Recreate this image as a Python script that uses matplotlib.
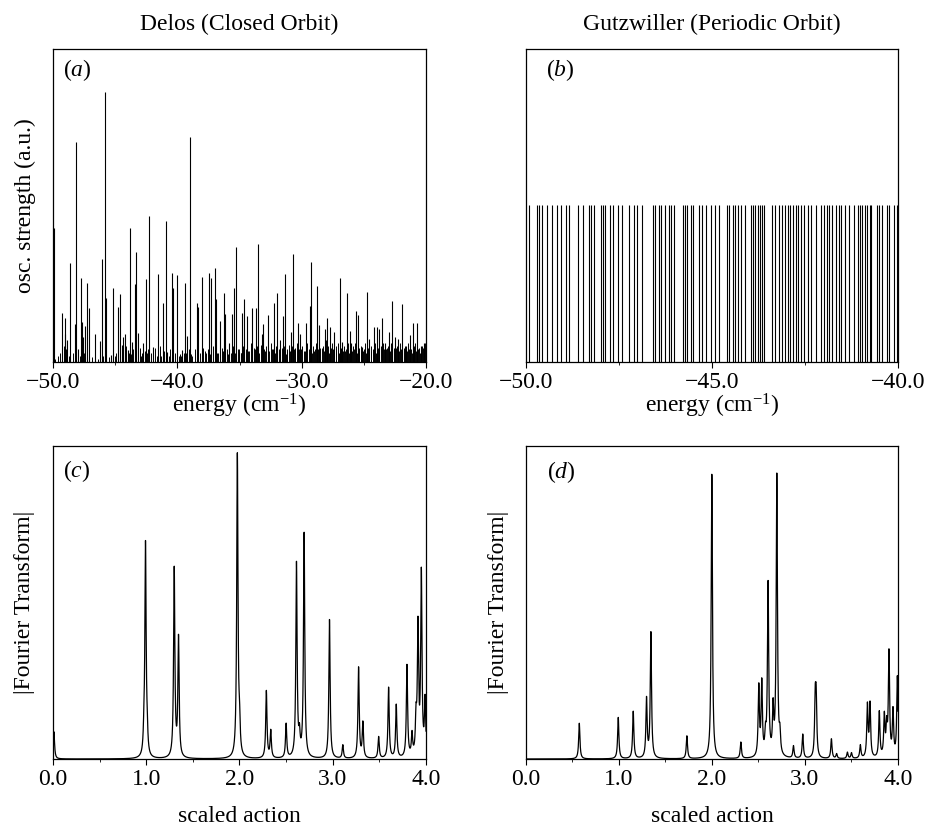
import numpy as np
import matplotlib
matplotlib.use("Agg")
import matplotlib.pyplot as plt
from matplotlib.ticker import MultipleLocator, FuncFormatter, FormatStrFormatter

plt.rcParams['font.family'] = ['Liberation Serif', 'DejaVu Serif']
plt.rcParams['mathtext.fontset'] = 'custom'
plt.rcParams['mathtext.rm'] = 'Liberation Serif'
plt.rcParams['mathtext.it'] = 'Liberation Serif:italic'
plt.rcParams['axes.unicode_minus'] = True

FS = 17

# ---------------- Panel (a): Delos closed-orbit stick spectrum ----------------
a_energy = [-49.95, -49.25, -49.06, -49.01, -48.85, -48.60, -48.25, -48.15, -47.99, -47.72,
            -47.66, -47.56, -47.39, -47.23, -47.07, -46.59, -46.19, -46.05, -45.81, -45.73,
            -45.30, -45.17, -44.79, -44.60, -44.49, -44.33, -44.20, -43.96, -43.80, -43.66,
            -43.42, -43.31, -43.15, -42.77, -42.51, -42.24, -41.92, -41.54, -41.19, -40.95,
            -40.81, -40.46, -40.33, -40.06, -39.61, -39.39, -39.20, -38.96, -38.45, -38.32,
            -38.05, -37.43, -37.27, -37.00, -36.89, -36.54, -36.27, -36.14, -35.82, -35.60,
            -35.44, -35.28, -35.01, -34.80, -34.64, -34.42, -33.96, -33.70, -33.53, -33.19,
            -33.08, -32.73, -32.19, -31.98, -31.71, -31.49, -31.33, -30.88, -30.69, -30.26,
            -30.10, -29.69, -29.34, -29.24, -28.78, -28.62, -28.16, -27.97, -27.71, -27.38,
            -26.93, -26.74, -26.39, -26.15, -26.01, -25.61, -25.50, -25.15, -24.75, -24.56,
            -24.21, -23.97, -23.78, -23.52, -23.33, -22.95, -22.76, -22.47, -22.23, -21.93,
            -21.58, -21.29, -21.05, -20.72, -20.43, -20.19]
a_strength = [0.427, 0.157, 0.091, 0.139, 0.069, 0.315, 0.123, 0.704, 0.043, 0.267,
              0.128, 0.080, 0.115, 0.251, 0.171, 0.091, 0.067, 0.329, 0.862, 0.203,
              0.021, 0.238, 0.176, 0.217, 0.053, 0.080, 0.089, 0.037, 0.428, 0.064,
              0.249, 0.351, 0.094, 0.062, 0.265, 0.467, 0.048, 0.281, 0.189, 0.449,
              0.032, 0.283, 0.238, 0.279, 0.037, 0.251, 0.082, 0.718, 0.190, 0.176,
              0.270, 0.283, 0.267, 0.299, 0.200, 0.131, 0.219, 0.153, 0.061, 0.153,
              0.235, 0.369, 0.032, 0.155, 0.200, 0.146, 0.174, 0.171, 0.377, 0.091,
              0.123, 0.149, 0.187, 0.219, 0.069, 0.146, 0.281, 0.096, 0.345, 0.125,
              0.089, 0.125, 0.179, 0.318, 0.242, 0.117, 0.107, 0.139, 0.112, 0.096,
              0.269, 0.064, 0.219, 0.098, 0.062, 0.163, 0.149, 0.048, 0.224, 0.075,
              0.112, 0.112, 0.106, 0.142, 0.062, 0.096, 0.195, 0.080, 0.075, 0.185,
              0.051, 0.086, 0.125, 0.125, 0.051, 0.062]

# weak lines forming the dense "grass" along the baseline
a_weak_energy = [-49.80, -49.60, -49.45, -49.15, -48.95, -48.70, -48.40, -47.85, -47.50, -47.30,
                 -46.90, -46.40, -45.95, -45.50, -45.00, -44.90, -44.65, -44.10, -43.90, -43.55,
                 -43.20, -43.00, -42.85, -42.60, -42.35, -42.10, -41.80, -41.65, -41.40, -41.05,
                 -40.70, -40.55, -40.20, -39.90, -39.80, -39.50, -39.10, -38.80, -38.60, -38.20,
                 -37.90, -37.70, -37.55, -37.10, -36.95, -36.70, -36.40, -36.00, -35.70, -35.50,
                 -35.15, -34.90, -34.70, -34.50, -34.25, -34.10, -33.85, -33.60, -33.40, -33.30,
                 -33.00, -32.85, -32.60, -32.45, -32.30, -32.05, -31.85, -31.60, -31.40, -31.20,
                 -31.05, -30.95, -30.80, -30.55, -30.40, -30.20, -29.95, -29.85, -29.55, -29.45,
                 -29.10, -28.95, -28.85, -28.50, -28.30, -28.05, -27.90, -27.60, -27.50, -27.25,
                 -27.10, -26.85, -26.60, -26.50, -26.30, -26.05, -25.85, -25.70, -25.40, -25.25,
                 -25.05, -24.90, -24.65, -24.45, -24.30, -24.10, -23.90, -23.65, -23.45, -23.20,
                 -23.05, -22.85, -22.60, -22.35, -22.10, -21.80, -21.70, -21.45, -21.20, -21.00,
                 -20.85, -20.60, -20.35, -20.10, -20.02,
                 -44.40, -43.70, -42.95, -42.45, -41.95, -41.30, -40.90, -40.40, -39.70, -39.30,
                 -38.90, -38.40, -37.80, -37.35, -36.80, -36.30, -35.90, -35.35, -35.05, -34.85,
                 -34.35, -34.00, -33.75, -33.15, -32.95, -32.70, -32.40, -32.15, -31.95, -31.75,
                 -31.50, -31.30, -31.15, -30.85, -30.65, -30.50, -30.30, -30.05, -29.75, -29.62,
                 -29.30, -29.20, -29.00, -28.70, -28.60, -28.40, -28.20, -28.10, -27.80, -27.65,
                 -27.40, -27.20, -27.00, -26.80, -26.70, -26.45, -26.20, -26.10, -25.95, -25.80,
                 -25.55, -25.35, -25.20, -25.00, -24.80, -24.60, -24.40, -24.20, -24.00, -23.80,
                 -23.55, -23.40, -23.30, -23.10, -22.90, -22.70, -22.50, -22.40, -22.20, -22.00,
                 -21.90, -21.65, -21.50, -21.35, -21.10, -20.95, -20.80, -20.65, -20.50, -20.25]
a_weak_strength = [0.010, 0.020, 0.030, 0.050, 0.040, 0.020, 0.030, 0.020, 0.030, 0.020,
                   0.015, 0.010, 0.020, 0.015, 0.020, 0.030, 0.040, 0.050, 0.030, 0.040,
                   0.030, 0.045, 0.030, 0.035, 0.040, 0.030, 0.045, 0.020, 0.050, 0.035,
                   0.020, 0.040, 0.030, 0.020, 0.025, 0.030, 0.040, 0.020, 0.040, 0.030,
                   0.045, 0.030, 0.040, 0.050, 0.060, 0.030, 0.045, 0.040, 0.030, 0.050,
                   0.040, 0.030, 0.050, 0.040, 0.035, 0.060, 0.045, 0.050, 0.030, 0.055,
                   0.040, 0.050, 0.035, 0.060, 0.040, 0.050, 0.040, 0.045, 0.050, 0.040,
                   0.055, 0.035, 0.050, 0.045, 0.060, 0.040, 0.050, 0.035, 0.060, 0.040,
                   0.050, 0.040, 0.060, 0.045, 0.050, 0.070, 0.050, 0.060, 0.040, 0.050,
                   0.060, 0.040, 0.050, 0.035, 0.060, 0.045, 0.050, 0.060, 0.040, 0.050,
                   0.035, 0.060, 0.045, 0.050, 0.040, 0.060, 0.045, 0.050, 0.060, 0.040,
                   0.050, 0.060, 0.045, 0.050, 0.060, 0.045, 0.050, 0.060, 0.040, 0.050,
                   0.060, 0.045, 0.050, 0.060, 0.070,
                   0.020, 0.025, 0.020, 0.030, 0.025, 0.020, 0.030, 0.025, 0.020, 0.030,
                   0.025, 0.030, 0.035, 0.025, 0.030, 0.035, 0.025, 0.030, 0.040, 0.030,
                   0.035, 0.025, 0.040, 0.030, 0.035, 0.025, 0.040, 0.030, 0.035, 0.030,
                   0.040, 0.025, 0.035, 0.030, 0.040, 0.035, 0.030, 0.040, 0.035, 0.030,
                   0.040, 0.030, 0.035, 0.040, 0.030, 0.045, 0.035, 0.040, 0.030, 0.045,
                   0.035, 0.040, 0.030, 0.045, 0.035, 0.040, 0.030, 0.045, 0.035, 0.040,
                   0.030, 0.045, 0.035, 0.040, 0.030, 0.045, 0.035, 0.040, 0.030, 0.045,
                   0.035, 0.040, 0.030, 0.045, 0.035, 0.040, 0.030, 0.045, 0.035, 0.040,
                   0.030, 0.045, 0.035, 0.040, 0.030, 0.045, 0.035, 0.040, 0.030, 0.045]

# ---------------- Panel (b): Gutzwiller periodic-orbit levels ----------------
b_energy = [-49.93, -49.71, -49.66, -49.56, -49.44, -49.30, -49.18, -49.05, -48.93, -48.84,
            -48.60, -48.46, -48.31, -48.25, -48.16, -47.99, -47.94, -47.88, -47.73, -47.67,
            -47.52, -47.41, -47.22, -47.10, -47.01, -46.87, -46.59, -46.54, -46.43, -46.38,
            -46.26, -46.16, -46.09, -46.02, -45.77, -45.73, -45.66, -45.57, -45.50, -45.35,
            -45.26, -45.16, -45.04, -44.91, -44.80, -44.60, -44.54, -44.44, -44.38, -44.31,
            -44.23, -44.11, -43.95, -43.90, -43.84, -43.76, -43.71, -43.65, -43.60, -43.39,
            -43.30, -43.20, -43.13, -43.03, -42.96, -42.90, -42.83, -42.75, -42.69, -42.60,
            -42.52, -42.42, -42.35, -42.21, -42.07, -41.99, -41.92, -41.85, -41.78, -41.68,
            -41.59, -41.52, -41.42, -41.33, -41.17, -41.08, -41.01, -40.96, -40.89, -40.82,
            -40.76, -40.72, -40.57, -40.51, -40.44, -40.30, -40.23, -40.12, -40.03]
b_strength = 1.0

# ---------------- Panel (c): |FT| of Delos spectrum (peak list) ----------------
c_action = [0.01, 0.975, 0.992, 1.010, 1.300, 1.346, 1.977, 2.000, 2.288, 2.335, 2.500,
            2.611, 2.643, 2.693, 2.965, 3.108, 3.277, 3.323, 3.492, 3.599, 3.681,
            3.796, 3.850, 3.893, 3.914, 3.950, 3.990]
c_amp = [0.087, 0.05, 0.680, 0.05, 0.604, 0.380, 0.968, 0.09, 0.215, 0.087, 0.109,
         0.620, 0.060, 0.716, 0.444, 0.043, 0.290, 0.112, 0.069, 0.226, 0.170,
         0.295, 0.070, 0.110, 0.410, 0.583, 0.178]

# ---------------- Panel (d): |FT| of Gutzwiller spectrum (peak list) ----------------
d_action = [0.573, 0.992, 1.153, 1.296, 1.343, 1.730, 1.998, 2.310, 2.503, 2.535,
            2.575, 2.603, 2.657, 2.697, 2.730, 2.876, 2.976, 3.110, 3.120, 3.284,
            3.340, 3.456, 3.500, 3.595, 3.671, 3.699, 3.799, 3.853, 3.878, 3.903,
            3.946, 3.993]
d_amp = [0.114, 0.132, 0.151, 0.188, 0.401, 0.073, 0.909, 0.052, 0.223, 0.233,
         0.060, 0.551, 0.146, 0.899, 0.060, 0.039, 0.077, 0.170, 0.170, 0.063,
         0.015, 0.020, 0.018, 0.042, 0.167, 0.170, 0.146, 0.130, 0.090, 0.332,
         0.146, 0.258]

peak_hwhm = 0.008

titles = ["Delos (Closed Orbit)", "Gutzwiller (Periodic Orbit)"]
panel_tags = ["a", "b", "c", "d"]

W, H = 928, 827
fig = plt.figure(figsize=(W / 100, H / 100), dpi=100)

def ax_px(l, t, r, b):
    return fig.add_axes([l / W, 1 - b / H, (r - l) / W, (b - t) / H])

ax_a = ax_px(53, 49, 426, 362)
ax_b = ax_px(526, 49, 898, 362)
ax_c = ax_px(53, 446, 426, 759)
ax_d = ax_px(526, 446, 898, 759)

for ax in (ax_a, ax_b, ax_c, ax_d):
    for s in ax.spines.values():
        s.set_linewidth(0.9)
    ax.tick_params(axis='y', left=False, labelleft=False)
    ax.tick_params(axis='x', which='major', direction='out', length=4, width=0.8,
                   labelsize=FS, pad=3)
    ax.tick_params(axis='x', which='minor', direction='out', length=2.5, width=0.6)

neg_fmt = FuncFormatter(lambda v, p: f"{v:.1f}".replace('-', '\u2212'))

# (a)
ax_a.vlines(a_weak_energy, 0, a_weak_strength, color='black', lw=0.7)
ax_a.vlines(a_energy, 0, a_strength, color='black', lw=0.8)
ax_a.set_xlim(-50, -20)
ax_a.set_ylim(0, 1)
ax_a.xaxis.set_major_locator(MultipleLocator(10))
ax_a.xaxis.set_minor_locator(MultipleLocator(5))
ax_a.xaxis.set_major_formatter(neg_fmt)

# (b)
ax_b.vlines(b_energy, 0, b_strength, color='black', lw=0.8)
ax_b.set_xlim(-50, -40)
ax_b.set_ylim(0, 2)
ax_b.xaxis.set_major_locator(MultipleLocator(5))
ax_b.xaxis.set_minor_locator(MultipleLocator(2.5))
ax_b.xaxis.set_major_formatter(neg_fmt)

# (c), (d)
x = np.linspace(0, 4, 8001)
def spectrum(pos, amp):
    y = np.zeros_like(x)
    for p, a in zip(pos, amp):
        y += a / (1 + ((x - p) / peak_hwhm) ** 2)
    return y

ax_c.plot(x, spectrum(c_action, c_amp), color='black', lw=0.9)
ax_d.plot(x, spectrum(d_action, d_amp), color='black', lw=0.9)
for ax in (ax_c, ax_d):
    ax.set_xlim(0, 4)
    ax.set_ylim(0, 1)
    ax.xaxis.set_major_locator(MultipleLocator(1))
    ax.xaxis.set_minor_locator(MultipleLocator(0.5))
    ax.xaxis.set_major_formatter(FormatStrFormatter('%.1f'))

# titles
ax_a.text(0.5, 1 + 25 / 313, titles[0], transform=ax_a.transAxes, ha='center', va='center', fontsize=FS)
ax_b.text(0.5, 1 + 25 / 313, titles[1], transform=ax_b.transAxes, ha='center', va='center', fontsize=FS)

# axis labels
for ax in (ax_a, ax_b):
    ax.set_xlabel("energy (cm$^{-1}$)", fontsize=FS)
    ax.xaxis.set_label_coords(0.5, -44 / 313)
    ax.xaxis.label.set_va('center')
for ax in (ax_c, ax_d):
    ax.set_xlabel("scaled action", fontsize=FS)
    ax.xaxis.set_label_coords(0.5, -58 / 313)
    ax.xaxis.label.set_va('center')

ax_a.set_ylabel("osc. strength (a.u.)", fontsize=FS)
ax_c.set_ylabel("|Fourier Transform|", fontsize=FS)
ax_d.set_ylabel("|Fourier Transform|", fontsize=FS)
for ax in (ax_a, ax_c, ax_d):
    ax.yaxis.label.set_va('center')
    ax.yaxis.set_label_coords(-28 / 373, 0.5)

# panel tags
tag_pos = {ax_a: (10, 21), ax_b: (20, 21), ax_c: (10, 25), ax_d: (21, 26)}
for ax, tag in zip((ax_a, ax_b, ax_c, ax_d), panel_tags):
    dx, dy = tag_pos[ax]
    ax.text(dx / 373, 1 - dy / 313, "($\\mathit{" + tag + "}$)", transform=ax.transAxes,
            ha='left', va='center', fontsize=FS)

fig.savefig("out.png", dpi=100)
